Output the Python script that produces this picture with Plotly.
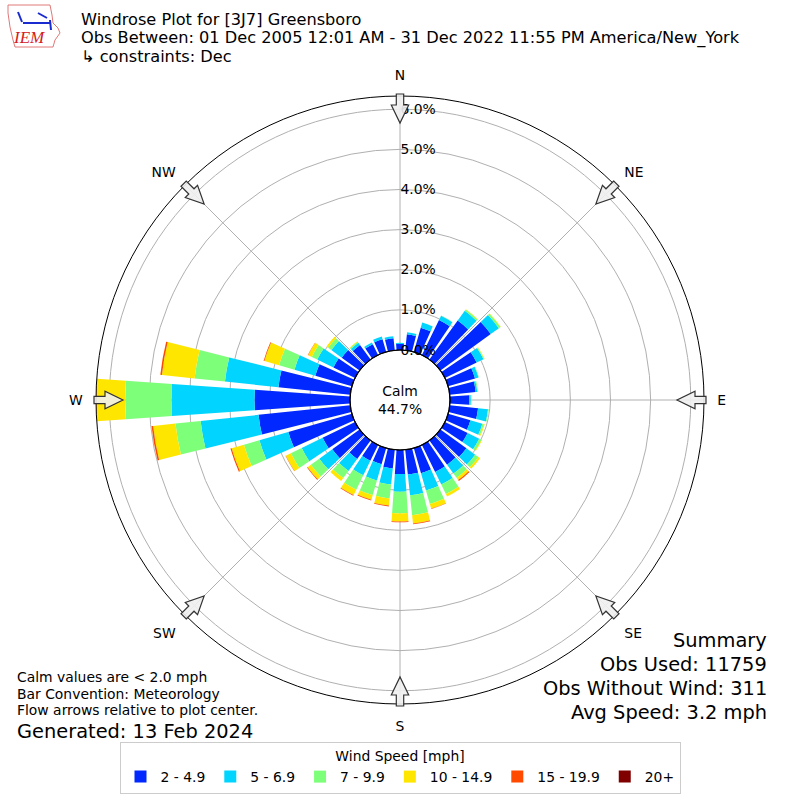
import math
import plotly.graph_objects as go

# ---------------- data ----------------
directions = list(range(0, 360, 10))
speed_bins = ["2 - 4.9", "5 - 6.9", "7 - 9.9", "10 - 14.9", "15 - 19.9", "20+"]
bin_colors = ["#0028ff", "#00d4ff", "#7dff7a", "#ffe600", "#ff4a00", "#800000"]
compass_labels = ["N", "NE", "E", "SE", "S", "SW", "W", "NW"]
compass_angles = [0, 45, 90, 135, 180, 225, 270, 315]
radial_ticks = [0, 1, 2, 3, 4, 5, 6]
radial_ticktext = ["0.0%", "1.0%", "2.0%", "3.0%", "4.0%", "5.0%", "6.0%"]

# percent of observations per direction bin (0,10,...,350 deg)
pct_2_5 = [0.15, 0.40, 0.63, 0.97, 1.20, 1.55, 0.88, 0.70, 0.65, 0.48,
           0.71, 0.58, 0.63, 0.80, 0.75, 0.75, 0.65, 0.62, 0.60, 0.47,
           0.42, 0.44, 0.57, 0.84, 0.90, 1.65, 2.30, 2.38, 1.80, 0.95,
           0.60, 0.55, 0.45, 0.30, 0.33, 0.30]
pct_5_7 = [0.03, 0.05, 0.13, 0.12, 0.30, 0.25, 0.19, 0.09, 0.04, 0.04,
           0.25, 0.31, 0.32, 0.27, 0.27, 0.35, 0.45, 0.52, 0.44, 0.40,
           0.42, 0.40, 0.37, 0.40, 0.58, 0.75, 1.45, 2.07, 1.34, 0.54,
           0.45, 0.32, 0.07, 0.05, 0.07, 0.05]
pct_7_10 = [0.00, 0.00, 0.00, 0.01, 0.04, 0.05, 0.02, 0.01, 0.02, 0.02,
            0.02, 0.04, 0.06, 0.10, 0.13, 0.26, 0.35, 0.50, 0.54, 0.35,
            0.38, 0.40, 0.22, 0.26, 0.30, 0.40, 0.63, 1.15, 0.76, 0.40,
            0.15, 0.10, 0.03, 0.00, 0.00, 0.00]
pct_10_15 = [0.00, 0.00, 0.00, 0.00, 0.01, 0.01, 0.01, 0.00, 0.00, 0.00,
             0.00, 0.02, 0.02, 0.05, 0.07, 0.07, 0.12, 0.21, 0.20, 0.18,
             0.12, 0.15, 0.09, 0.10, 0.14, 0.32, 0.56, 0.72, 0.82, 0.38,
             0.10, 0.05, 0.01, 0.00, 0.00, 0.00]
pct_15_20 = [0.00, 0.00, 0.00, 0.00, 0.00, 0.00, 0.00, 0.00, 0.00, 0.00,
             0.00, 0.00, 0.00, 0.00, 0.03, 0.00, 0.01, 0.02, 0.02, 0.02,
             0.02, 0.02, 0.00, 0.02, 0.01, 0.03, 0.04, 0.01, 0.04, 0.02,
             0.01, 0.00, 0.00, 0.00, 0.00, 0.00]
pct_20_up = [0.0] * 36
series = [pct_2_5, pct_5_7, pct_7_10, pct_10_15, pct_15_20, pct_20_up]

calm_pct = 44.7
summary_lines = ["Summary", "Obs Used: 11759", "Obs Without Wind: 311", "Avg Speed: 3.2 mph"]
note_lines = ["Calm values are < 2.0 mph", "Bar Convention: Meteorology",
              "Flow arrows relative to plot center."]
generated = "Generated: 13 Feb 2024"
title_lines = ["Windrose Plot for [3J7] Greensboro",
               "Obs Between: 01 Dec 2005 12:01 AM - 31 Dec 2022 11:55 PM America/New_York",
               "\u21b3 constraints: Dec"]

# ---------------- figure ----------------
W = H = 800
FONT = "DejaVu Sans"
SMALL = 13.9
fig = go.Figure()
for name, vals, col in zip(speed_bins, series, bin_colors):
    fig.add_trace(go.Barpolar(
        r=vals, theta=directions, width=[8] * len(directions), name=name,
        marker=dict(color=col, line=dict(width=0)),
    ))

rmax = max(sum(v) for v in zip(*series))

def px2paper(x, y):
    return x / W, 1 - y / H

cx, cy, R = 400, 400, 304
dom = [(cx - R) / W, (cx + R) / W]

fig.update_layout(
    width=W, height=H,
    margin=dict(l=0, r=0, t=0, b=0),
    paper_bgcolor="white",
    font=dict(family=FONT, color="black", size=SMALL),
    polar=dict(
        domain=dict(x=dom, y=dom),
        hole=50 / R,
        bgcolor="white",
        barmode="stack",
        angularaxis=dict(
            rotation=90, direction="clockwise",
            tickmode="array", tickvals=compass_angles, ticktext=compass_labels,
            showline=True, linecolor="black", linewidth=1,
            gridcolor="#b0b0b0", gridwidth=1, layer="above traces",
            ticks="outside", ticklen=10, tickcolor="rgba(0,0,0,0)",
            tickfont=dict(size=SMALL, family=FONT),
        ),
        radialaxis=dict(
            range=[0, rmax], angle=90, tickangle=90,
            tickmode="array", tickvals=radial_ticks, ticktext=radial_ticktext,
            showline=False, ticks="", gridcolor="#b0b0b0", gridwidth=1,
            layer="above traces",
            tickfont=dict(size=SMALL, family=FONT), side="clockwise",
        ),
    ),
    legend=dict(
        orientation="h", x=0.5, xanchor="center", y=1 - 742 / H, yanchor="top",
        bgcolor="white", bordercolor="#cccccc", borderwidth=1,
        font=dict(size=SMALL, family=FONT),
        title=dict(text="Wind Speed [mph]", side="top center", font=dict(size=SMALL, family=FONT)),
        itemsizing="constant",
    ),
    showlegend=True,
)

shapes = []
# calm circle edge
x0, y0 = px2paper(cx - 50, cy - 50)
x1, y1 = px2paper(cx + 50, cy + 50)
shapes.append(dict(type="circle", xref="paper", yref="paper", x0=x0, y0=y1, x1=x1, y1=y0,
                   line=dict(color="black", width=1.2), layer="above"))

# flow arrows (pointing inward) at compass positions
def arrow_path(theta_deg):
    t = math.radians(theta_deg)
    ux, uy = math.sin(t), -math.cos(t)
    vx, vy = math.cos(t), math.sin(t)
    pts = [(306, -3.7), (295, -3.7), (295, -8.7), (277, 0), (295, 8.7), (295, 3.7), (306, 3.7)]
    out = []
    for a, p in pts:
        x = cx + a * ux + p * vx
        y = cy + a * uy + p * vy
        X, Y = px2paper(x, y)
        out.append(f"{X:.5f},{Y:.5f}")
    return "M " + " L ".join(out) + " Z"

for ang in compass_angles:
    shapes.append(dict(type="path", xref="paper", yref="paper", path=arrow_path(ang),
                       fillcolor="rgba(240,240,240,0.9)", line=dict(color="#333333", width=1.2),
                       layer="above"))

# simple IEM logo outline
logo_pts = [(8, 5), (50, 5), (52, 15), (53, 23), (58, 28), (60, 33), (55, 40), (53, 47),
            (15, 47), (13, 40), (10, 27), (8, 13)]
path = "M " + " L ".join("{:.5f},{:.5f}".format(*px2paper(x, y)) for x, y in logo_pts) + " Z"
shapes.append(dict(type="path", xref="paper", yref="paper", path=path,
                   line=dict(color="#e07878", width=1), fillcolor="rgba(0,0,0,0)"))
for seg in [((23, 23), (50, 23)), ((18, 12), (22, 22)), ((38, 13), (47, 18)), ((50, 20), (51, 30))]:
    (ax, ay), (bx, by) = seg
    X0, Y0 = px2paper(ax, ay)
    X1, Y1 = px2paper(bx, by)
    shapes.append(dict(type="line", xref="paper", yref="paper", x0=X0, y0=Y0, x1=X1, y1=Y1,
                       line=dict(color="#1a2bd0", width=2)))
fig.update_layout(shapes=shapes)

ann = []
def add_text(text, x, y, size, xanchor="left", color="black", family=FONT):
    X, Y = px2paper(x, y)
    ann.append(dict(text=text, x=X, y=Y, xref="paper", yref="paper", xanchor=xanchor,
                    yanchor="middle", showarrow=False, borderpad=0,
                    font=dict(size=size, color=color, family=family)))

add_text("<i>IEM</i>", 29, 38, 17, xanchor="center", color="#d42020",
         family="Liberation Serif")
for i, line in enumerate(title_lines):
    add_text(line, 80, 19.5 + 18.6 * i, 16.2)
ann.append(dict(text=f"Calm<br>{calm_pct:.1f}%", x=0.5, y=0.5, xref="paper", yref="paper",
                showarrow=False, font=dict(size=SMALL, family=FONT), align="center"))
for i, line in enumerate(summary_lines):
    add_text(line, 768, 640 + 24 * i, 19.4, xanchor="right")
for i, line in enumerate(note_lines):
    add_text(line, 16, 677 + 16.5 * i, SMALL)
add_text(generated, 16, 731, 19.4)
fig.update_layout(annotations=ann)

fig.write_html("out.html", config={"displayModeBar": False},
               post_script="document.body.style.margin='0px';")
